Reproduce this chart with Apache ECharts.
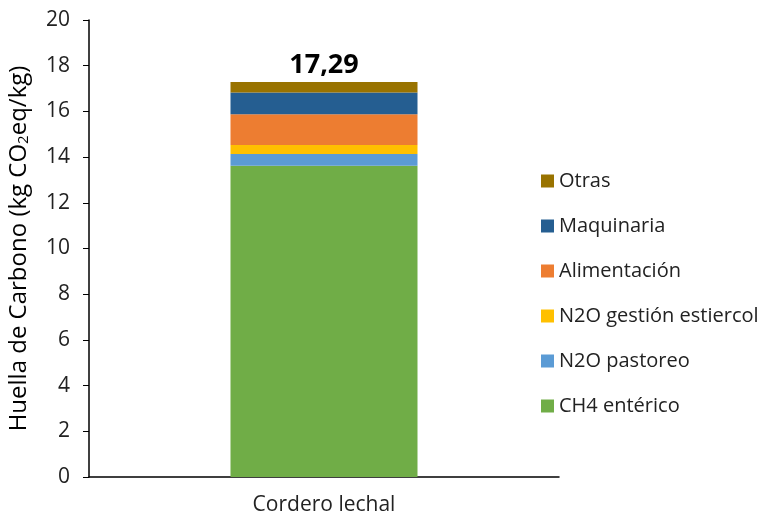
<!DOCTYPE html>
<html>
<head>
<meta charset="utf-8">
<script src="https://cdn.jsdelivr.net/npm/echarts@6/dist/echarts.min.js"></script>
<style>
  html, body { margin: 0; padding: 0; background: #fff; }
  #chart { width: 767px; height: 519px; }
</style>
</head>
<body>
<div id="chart"></div>
<script>
const categories = ['Cordero lechal'];
const seriesNames = ['CH4 entérico', 'N2O pastoreo', 'N2O gestión estiercol', 'Alimentación', 'Maquinaria', 'Otras'];
const seriesValues = [[13.62], [0.52], [0.39], [1.35], [0.95], [0.46]];
const seriesColors = ['#70ad47', '#5b9bd5', '#ffc000', '#ed7d31', '#255e91', '#997300'];
const totals = [17.29];

const fontFam = '"Open Sans", "Noto Sans", sans-serif';

const chartDom = document.getElementById('chart');
const myChart = echarts.init(chartDom);

const series = seriesNames.map((name, i) => ({
    name: name,
    type: 'bar',
    stack: 'total',
    data: seriesValues[i],
    barWidth: 187,
    itemStyle: { color: seriesColors[i] },
    label: i === seriesNames.length - 1 ? {
        show: true,
        position: 'top',
        distance: 3,
        formatter: p => totals[p.dataIndex].toFixed(2).replace('.', ','),
        fontFamily: fontFam,
        fontWeight: 'bold',
        fontSize: 27,
        color: '#000'
    } : { show: false }
}));

myChart.setOption({
    animation: false,
    grid: { left: 89, right: 208, top: 20, bottom: 42, outerBoundsMode: 'none' },
    legend: {
        orient: 'vertical',
        left: 536,
        top: 166,
        itemWidth: 13,
        itemHeight: 13,
        itemGap: 25,
        icon: 'rect',
        data: seriesNames.slice().reverse(),
        textStyle: { fontFamily: fontFam, fontSize: 20, lineHeight: 20, color: '#222' }
    },
    xAxis: {
        type: 'category',
        data: categories,
        axisTick: { show: false },
        axisLine: { lineStyle: { color: '#000', width: 1.5 } },
        axisLabel: { fontFamily: fontFam, fontSize: 21, color: '#222', margin: 18 }
    },
    yAxis: {
        type: 'value',
        min: 0,
        max: 20,
        interval: 2,
        name: '{a|Huella de Carbono (kg CO}{s|2}{a|eq/kg)}',
        nameLocation: 'middle',
        nameGap: 56,
        nameTextStyle: {
            rich: {
                a: { fontFamily: fontFam, fontSize: 24, lineHeight: 28, color: '#000' },
                s: { fontFamily: fontFam, fontSize: 15, lineHeight: 28, color: '#000', padding: [10, 0, 0, 0] }
            }
        },
        splitLine: { show: false },
        axisLine: { show: true, lineStyle: { color: '#000', width: 1.5 } },
        axisTick: { show: true, length: 6, lineStyle: { color: '#000' } },
        axisLabel: { fontFamily: fontFam, fontSize: 21, color: '#222', margin: 19 }
    },
    series: series
});
</script>
</body>
</html>
